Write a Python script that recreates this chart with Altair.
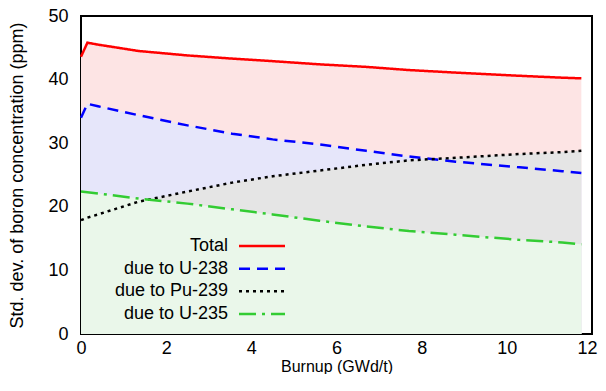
import altair as alt
import pandas as pd

# ---- data ----
burnup = [0.0, 0.15, 0.4, 1.35, 2.5, 3.55, 4.5, 5.6, 6.7, 7.7, 8.8, 10.3, 11.3, 11.75]
total  = [43.6, 45.8, 45.5, 44.5, 43.8, 43.3, 42.9, 42.4, 42.0, 41.5, 41.1, 40.6, 40.3, 40.2]
u238   = [34.0, 36.2, 35.8, 34.4, 32.8, 31.5, 30.6, 29.8, 28.8, 27.9, 27.1, 26.2, 25.6, 25.3]
pu239  = [17.9, 18.3, 18.8, 20.8, 22.4, 23.8, 24.8, 25.7, 26.6, 27.3, 27.7, 28.3, 28.6, 28.8]
u235   = [22.4, 22.3, 22.1, 21.3, 20.5, 19.6, 18.8, 17.8, 16.9, 16.2, 15.6, 14.8, 14.4, 14.1]

series_names = ["Total", "due to U-238", "due to Pu-239", "due to U-235"]
series_values = [total, u238, pu239, u235]
x_ticks = [0, 2, 4, 6, 8, 10, 12]
y_ticks = [0, 10, 20, 30, 40, 50]

line_colors = ["#ff0000", "#0000ff", "#000000", "#33cc33"]
fill_colors = ["#fde4e4", "#e6e6fa", "#e5e5e5", "#eaf7ea"]
dashes = [[1, 0], [11, 7], [3, 4], [17, 6, 3, 6]]

FONT = "Liberation Sans"

rows = []
for name, vals in zip(series_names, series_values):
    for b, v in zip(burnup, vals):
        rows.append({"burnup": b, "value": v, "series": name})
df = pd.DataFrame(rows)

x_enc = alt.X("burnup:Q",
              scale=alt.Scale(domain=[0, 12], nice=False),
              axis=alt.Axis(values=x_ticks, title="Burnup (GWd/t)", labelPadding=5,
                            labelFlush=True, labelFlushOffset=5,
                            titlePadding=1, titleFontSize=16))
y_enc = alt.Y("value:Q",
              scale=alt.Scale(domain=[0, 50], nice=False),
              axis=alt.Axis(values=y_ticks, title="Std. dev. of boron concentration (ppm)",
                            labelPadding=13, titlePadding=21, labelFlush=False))

base = alt.Chart(df)
areas = []
lines = []
for name, fc, lc, d in zip(series_names, fill_colors, line_colors, dashes):
    sub = base.transform_filter(alt.datum.series == name)
    areas.append(sub.mark_area(color=fc, opacity=1).encode(x=x_enc, y=y_enc))
    lines.append(sub.mark_line(color=lc, strokeDash=d, strokeWidth=2.5).encode(x=x_enc, y=y_enc))

main = alt.layer(*areas, *lines)

# ---- legend inside the plot ----
leg_df = pd.DataFrame({"series": series_names})
leg_y = alt.Y("series:N",
              scale=alt.Scale(type="point", domain=series_names, range=[230, 298], padding=0),
              axis=None)
leg_base = alt.Chart(leg_df)
leg_layers = [leg_base.mark_text(align="right", baseline="middle", font=FONT, fontSize=18,
                                 color="black")
              .encode(y=leg_y, text="series:N", x=alt.value(147))]
for name, lc, d in zip(series_names, line_colors, dashes):
    leg_layers.append(
        leg_base.transform_filter(alt.datum.series == name)
        .mark_rule(color=lc, strokeDash=d, strokeWidth=2.5)
        .encode(y=leg_y, x=alt.value(158), x2=alt.value(204))
    )
legend = alt.layer(*leg_layers)

chart = (
    alt.layer(main, legend)
    .resolve_scale(y="independent")
    .properties(width=511, height=318,
                autosize=alt.AutoSizeParams(type="none"),
                padding={"left": 73, "top": 8, "right": 6, "bottom": 40})
    .configure_view(stroke="#000000", strokeWidth=2)
    .configure_axis(domain=False, ticks=False, grid=False,
                    labelFont=FONT, labelFontSize=18, labelColor="#000000",
                    titleFont=FONT, titleFontSize=18, titleFontWeight="normal",
                    titleColor="#000000")
)

chart.save("out.html", embed_options={"renderer": "svg", "actions": False})
